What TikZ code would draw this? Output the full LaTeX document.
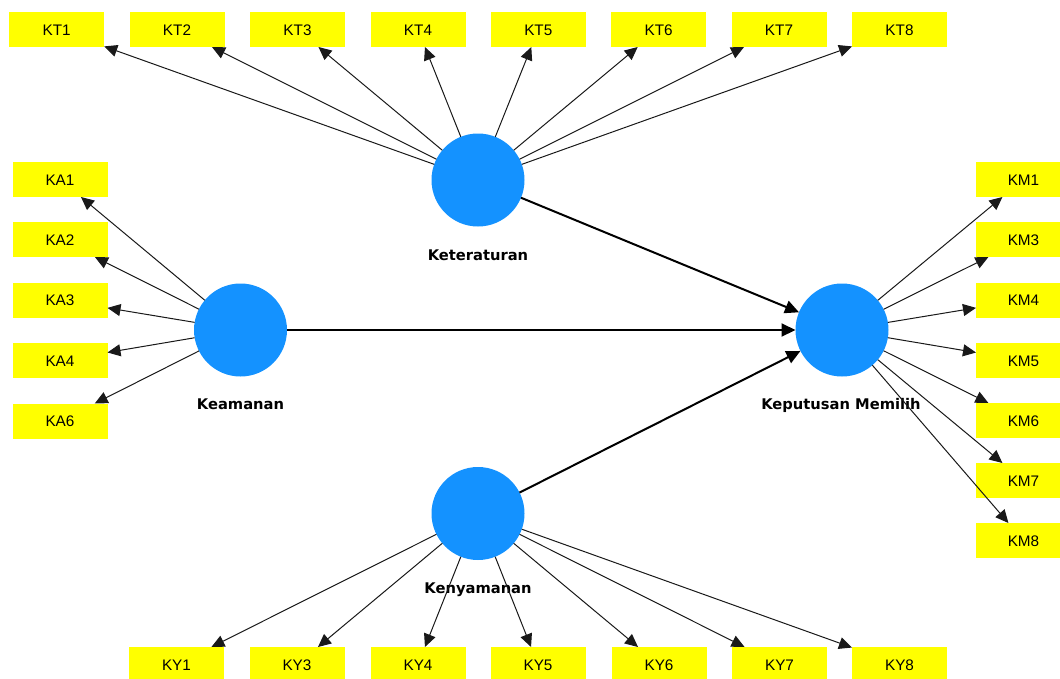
\documentclass[tikz,border=0pt]{standalone}
\usepackage{fontspec}
\setmainfont{Liberation Sans}
\newfontfamily\labfont{DejaVu Sans}
\usetikzlibrary{arrows.meta}
\definecolor{lvblue}{RGB}{20,146,255}
\definecolor{indyellow}{RGB}{255,255,0}
\tikzset{
  ind/.style={fill=indyellow, draw=none, rectangle, minimum width=95pt, minimum height=35pt,
    inner sep=0pt, outer sep=0pt, text height=11pt, text depth=0pt,
    font=\fontsize{15.3pt}{15.3pt}\selectfont},
  lv/.style={circle, fill=lvblue, draw=none, minimum size=93pt, inner sep=0pt, outer sep=0pt},
  lvlabel/.style={anchor=base, inner sep=0pt, font=\labfont\bfseries\fontsize{14.7pt}{14.7pt}\selectfont},
  load/.style={draw=black!90, line width=1pt, -{Triangle[length=13pt,width=12pt]}},
  path/.style={draw=black, line width=2pt, -{Triangle[length=14pt,width=13pt]}}
}
\begin{document}
\begin{tikzpicture}[x=1pt,y=-1pt]
\useasboundingbox (0,0) rectangle (1060,678);
\clip (0,0) rectangle (1060,678);
% latent variables
\node[lv] (KT) at (478,180) {};
\node[lv] (KA) at (240.5,330) {};
\node[lv] (KM) at (842,330) {};
\node[lv] (KY) at (478,513.5) {};
\node[lvlabel] (KTl) at (478,260) {Keteraturan};
\node[lvlabel] (KAl) at (240.5,409) {Keamanan};
\node[lvlabel] (KMl) at (841,409) {Keputusan Memilih};
\node[lvlabel] (KYl) at (478,593) {Kenyamanan};
% KT indicators
\node[ind] (KT1) at (56.7,29.5) {KT1};
\node[ind] (KT2) at (177,29.5) {KT2};
\node[ind] (KT3) at (297.5,29.5) {KT3};
\node[ind] (KT4) at (418,29.5) {KT4};
\node[ind] (KT5) at (538.3,29.5) {KT5};
\node[ind] (KT6) at (658.7,29.5) {KT6};
\node[ind] (KT7) at (779,29.5) {KT7};
\node[ind] (KT8) at (899.5,29.5) {KT8};
% KA indicators
\node[ind] (KA1) at (60,179.5) {KA1};
\node[ind] (KA2) at (60,239.5) {KA2};
\node[ind] (KA3) at (60,300) {KA3};
\node[ind] (KA4) at (60,360.5) {KA4};
\node[ind] (KA6) at (60,421) {KA6};
% KM indicators
\node[ind] (KM1) at (1023.5,179.5) {KM1};
\node[ind] (KM3) at (1023.5,239.5) {KM3};
\node[ind] (KM4) at (1023.5,300) {KM4};
\node[ind] (KM5) at (1023.5,360.5) {KM5};
\node[ind] (KM6) at (1023.5,420.5) {KM6};
\node[ind] (KM7) at (1023.5,480.5) {KM7};
\node[ind] (KM8) at (1023.5,540.5) {KM8};
% KY indicators
\node[ind] (KY1) at (176.5,664.5) {KY1};
\node[ind] (KY3) at (297,664.5) {KY3};
\node[ind] (KY4) at (418,664.5) {KY4};
\node[ind] (KY5) at (538,664.5) {KY5};
\node[ind] (KY6) at (659,664.5) {KY6};
\node[ind] (KY7) at (779.5,664.5) {KY7};
\node[ind] (KY8) at (899.5,664.5) {KY8};
% loadings
\foreach \t in {KT1,KT2,KT3,KT4,KT5,KT6,KT7,KT8} \draw[load] (KT) -- (\t);
\foreach \t in {KA1,KA2,KA3,KA4,KA6} \draw[load] (KA) -- (\t);
\foreach \t in {KM1,KM3,KM4,KM5,KM6,KM7,KM8} \draw[load] (KM) -- (\t);
\foreach \t in {KY1,KY3,KY4,KY5,KY6,KY7,KY8} \draw[load] (KY) -- (\t);
% structural paths
\draw[path] (KT) -- (KM);
\draw[path] (KA) -- (KM);
\draw[path] (KY) -- (KM);
\end{tikzpicture}
\end{document}
